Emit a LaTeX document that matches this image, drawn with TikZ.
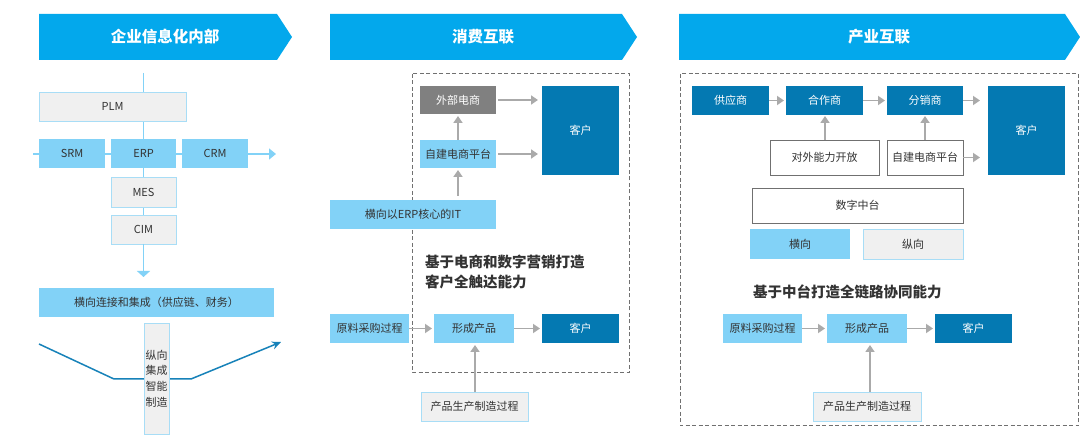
\documentclass[tikz,border=0pt]{standalone}
\usepackage{fontspec}
\setmainfont{Noto Sans CJK SC}
\usetikzlibrary{arrows.meta}
\definecolor{banner}{HTML}{03A8EC}
\definecolor{lblue}{HTML}{82D2F7}
\definecolor{dblue}{HTML}{0479B2}
\definecolor{lgray}{HTML}{F0F0F0}
\definecolor{lbor}{HTML}{A8DDF6}
\definecolor{mgray}{HTML}{808080}
\definecolor{agray}{HTML}{AAAAAA}
\definecolor{bgray}{HTML}{707070}
\definecolor{txt}{HTML}{333333}
\definecolor{pline}{HTML}{1782B9}
\newcommand\bx[7]{\node[#6, minimum width={#4-#2}, minimum height={#5-#3}] (#1) at ({(#2+#4)/2},{(#3+#5)/2}) {#7};}
\newcommand\banner[6]{\fill[banner] (#2,#3) -- (#4,#3) -- (#5,{(#3+#6)/2}) -- (#4,#6) -- (#2,#6) -- cycle;}
\tikzset{
  base/.style={inner sep=0pt, outer sep=0pt, text=txt, font=\fontsize{11}{13}\selectfont},
  lb/.style={base, fill=lblue},
  lg/.style={base, fill=lgray, draw=lbor, line width=0.9pt},
  db/.style={base, fill=dblue, text=white},
  gy/.style={base, fill=mgray, text=white},
  wb/.style={base, fill=white, draw=bgray, line width=0.9pt},
  garr/.style={draw=agray, line width=1.8pt, -{Triangle[width=9pt,length=7pt]}},
  barr/.style={draw=lblue, line width=1.4pt},
  btitle/.style={text=white, font=\fontsize{15.5}{18}\selectfont\bfseries},
  bold/.style={text=txt, font=\fontsize{14.5}{20}\selectfont\bfseries, anchor=west, inner sep=0pt},
  dbox/.style={draw=bgray, line width=1pt, dash pattern=on 4pt off 2.5pt}
}
\begin{document}
\begin{tikzpicture}[x=1pt,y=-1pt]
\useasboundingbox (0,0) rectangle (1080,435);
\fill[white] (0,0) rectangle (1080,435);
% ---------- left panel ----------
\banner{b1}{39}{14}{277}{292}{60}
\node[btitle] (t1) at (165,37) {企业信息化内部};
\coordinate (vtop) at (143.5,73);
\coordinate (hl) at (33,154);
\coordinate (hr) at (276,154);
\coordinate (vbot) at (143.5,277);
\draw[barr] (vtop) -- (143.5,215);
\draw[barr, -{Triangle[width=11pt,length=7pt]}] (hl) -- (hr);
\bx{plm}{39}{92}{186}{121}{lg}{PLM}
\bx{srm}{39}{139}{105}{168}{lb}{SRM}
\bx{erp}{111}{139}{176}{168}{lb}{ERP}
\bx{crm}{182}{139}{248}{168}{lb}{CRM}
\bx{mes}{111}{177}{176}{207}{lg}{MES}
\bx{cim}{111}{215}{176}{244}{lg}{CIM}
\draw[barr, -{Triangle[width=13pt,length=6pt]}] (cim.south) -- (vbot);
\bx{hx}{39}{288}{274}{317}{lb}{横向连接和集成（供应链、财务）}
\coordinate (p1) at (39,344);
\coordinate (p2) at (114,379);
\coordinate (p3) at (191,379);
\coordinate (p4) at (281,342);
\draw[pline, line width=1.5pt, -{Stealth[length=9pt,width=8pt]}] (p1) -- (p2) -- (p3) -- (p4);
\bx{zx}{144}{323}{169}{434}{lg, align=center, font=\fontsize{11}{15.7}\selectfont}{纵向\\集成\\智能\\制造}
% ---------- middle panel ----------
\banner{b2}{330}{14}{622}{637}{60}
\node[btitle] (t2) at (483,37) {消费互联};
\draw[dbox] (412,74) rectangle (629,373);
\bx{wb}{420}{86}{496}{114}{gy}{外部电商}
\bx{zj}{420}{140}{496}{168}{lb}{自建电商平台}
\bx{kh1}{542}{86}{619}{175}{db}{客户}
\bx{it}{330}{200}{496}{229}{lb}{横向以ERP核心的IT}
\draw[garr, shorten <=2pt, shorten >=4pt] (wb.east) -- (kh1.west |- wb.east);
\draw[garr, shorten <=2pt, shorten >=4pt] (zj.east) -- (kh1.west |- zj.east);
\draw[garr, shorten >=2pt] (zj.north -| 458,0) -- (wb.south -| 458,0);
\draw[garr, shorten <=4pt, shorten >=2pt] (it.north -| 458,0) -- (zj.south -| 458,0);
\node[bold] (s1) at (425,262) {基于电商和数字营销打造};
\node[bold] (s2) at (425,282) {客户全触达能力};
\bx{yl1}{330}{314}{409}{343}{lb}{原料采购过程}
\bx{xc1}{434}{314}{514}{343}{lb}{形成产品}
\bx{kh2}{542}{314}{619}{343}{db}{客户}
\bx{sc1}{421}{392}{528}{421}{lg}{产品生产制造过程}
\draw[garr, shorten >=2pt] (yl1.east) -- (xc1.west);
\draw[garr, shorten >=2pt] (xc1.east) -- (kh2.west);
\draw[garr, shorten >=2pt] (sc1.north -| 475,0) -- (xc1.south -| 475,0);
% ---------- right panel ----------
\banner{b3}{679}{14}{1065}{1080}{60}
\node[btitle] (t3) at (879,37) {产业互联};
\draw[dbox] (680,74) rectangle (1078.5,426);
\bx{gys}{692}{86}{769}{115}{db}{供应商}
\bx{hzs}{786}{86}{863}{115}{db}{合作商}
\bx{fxs}{887}{86}{963}{115}{db}{分销商}
\bx{kh3}{988}{86}{1065}{175}{db}{客户}
\bx{dw}{770}{140}{879}{175}{wb}{对外能力开放}
\bx{zj2}{887}{140}{963}{175}{wb}{自建电商平台}
\bx{sz}{752}{188}{963}{223}{wb}{数字中台}
\bx{hx2}{750}{229}{850}{259}{lb}{横向}
\bx{zx2}{863}{229}{963}{259}{lg}{纵向}
\draw[garr, shorten >=2pt] (gys.east) -- (hzs.west);
\draw[garr, shorten >=2pt] (hzs.east) -- (fxs.west);
\draw[garr, shorten >=8pt] (fxs.east) -- (kh3.west |- fxs.east);
\draw[garr, shorten >=8pt] (zj2.east) -- (kh3.west |- zj2.east);
\draw[garr, shorten >=1pt] (dw.north -| 825,0) -- (hzs.south -| 825,0);
\draw[garr, shorten >=1pt] (zj2.north -| 925,0) -- (fxs.south -| 925,0);
\node[bold] (s3) at (753,292) {基于中台打造全链路协同能力};
\bx{yl2}{723}{314}{802}{343}{lb}{原料采购过程}
\bx{xc2}{827}{314}{907}{343}{lb}{形成产品}
\bx{kh4}{935}{314}{1012}{343}{db}{客户}
\bx{sc2}{813}{392}{921}{421}{lg}{产品生产制造过程}
\draw[garr, shorten >=2pt] (yl2.east) -- (xc2.west);
\draw[garr, shorten >=2pt] (xc2.east) -- (kh4.west);
\draw[garr, shorten >=2pt] (sc2.north -| 870,0) -- (xc2.south -| 870,0);
\end{tikzpicture}
\end{document}
